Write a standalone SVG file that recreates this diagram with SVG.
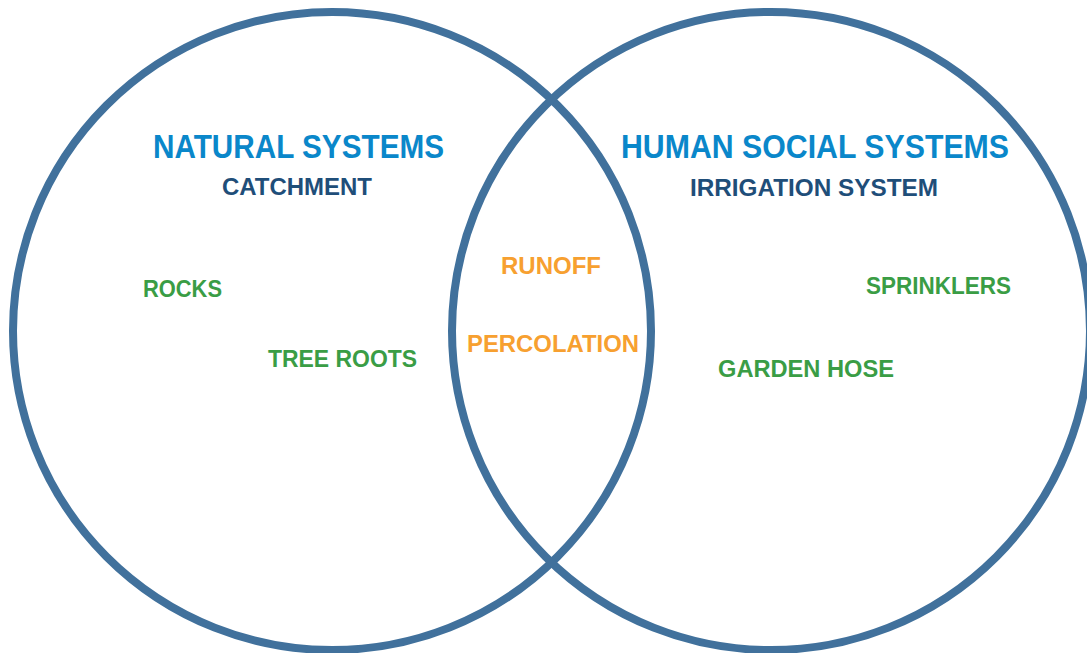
<svg xmlns="http://www.w3.org/2000/svg" width="1087" height="653" viewBox="0 0 1087 653">
<style>
.c{fill:none;stroke:#41719C;stroke-width:8}
text{font-family:"Liberation Sans",Arial,sans-serif;font-weight:bold}
.t{font-size:33px;fill:#0A87CA}
.s{font-size:23px;fill:#1F4E79}
.g{font-size:24.5px;fill:#3A9D45}
.o{font-size:24.5px;fill:#F7A030}
</style>
<rect width="1087" height="653" fill="#fff"/>
<g id="natural-systems">
<circle class="c" cx="332" cy="331" r="319"/>
<text class="t" x="153" y="158" textLength="291" lengthAdjust="spacingAndGlyphs">NATURAL SYSTEMS</text>
<text class="s" x="222" y="195" textLength="150" lengthAdjust="spacingAndGlyphs">CATCHMENT</text>
<text class="g" x="143" y="297" textLength="79" lengthAdjust="spacingAndGlyphs">ROCKS</text>
<text class="g" x="268" y="367" textLength="149" lengthAdjust="spacingAndGlyphs">TREE ROOTS</text>
</g>
<g id="human-social-systems">
<circle class="c" cx="771" cy="331" r="319"/>
<text class="t" x="621" y="158" textLength="388" lengthAdjust="spacingAndGlyphs">HUMAN SOCIAL SYSTEMS</text>
<text class="s" x="690" y="196" textLength="248" lengthAdjust="spacingAndGlyphs">IRRIGATION SYSTEM</text>
<text class="g" x="866" y="294" textLength="145" lengthAdjust="spacingAndGlyphs">SPRINKLERS</text>
<text class="g" x="718" y="377" textLength="176" lengthAdjust="spacingAndGlyphs">GARDEN HOSE</text>
</g>
<g id="overlap">
<text class="o" x="501" y="274" textLength="100" lengthAdjust="spacingAndGlyphs">RUNOFF</text>
<text class="o" x="467" y="352" textLength="172" lengthAdjust="spacingAndGlyphs">PERCOLATION</text>
</g>
<g id="connectors"></g>
</svg>
